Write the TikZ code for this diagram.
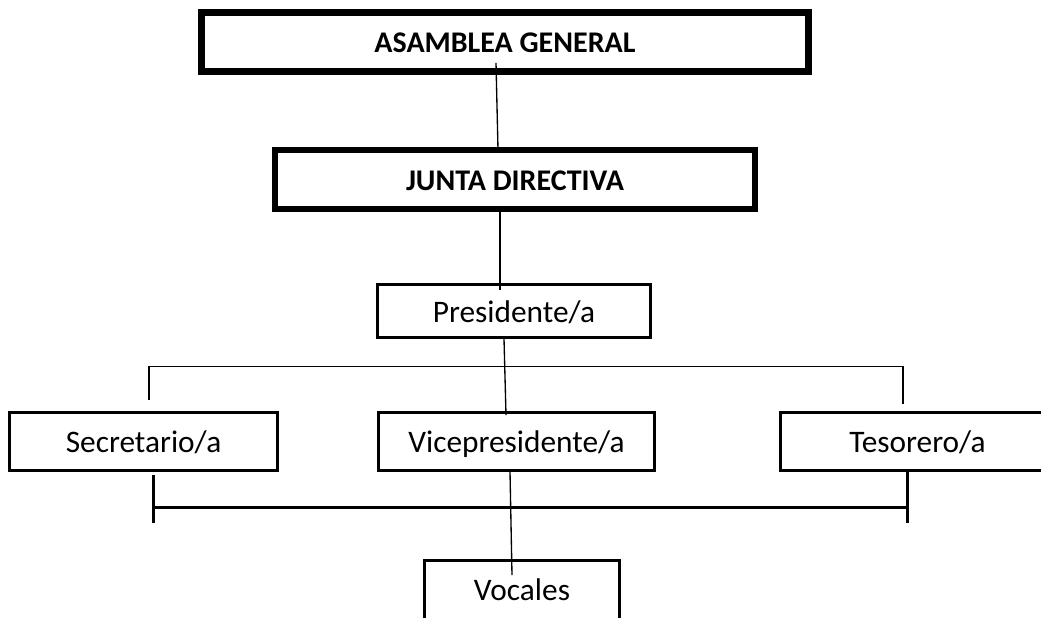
\documentclass[tikz,border=0pt]{standalone}
\usepackage{fontspec}
\setmainfont{Carlito}
\usetikzlibrary{calc}

\begin{document}
\begin{tikzpicture}[x=0.75pt, y=-0.75pt,
    box/.style = {draw, rectangle, inner sep=0pt, text height=16.5pt, text depth=0pt, font=\fontsize{23.5}{28}\selectfont},
    big/.style = {box, line width=5pt, minimum height=44.25pt, font=\fontsize{22.5}{27}\selectfont\bfseries},
    small/.style = {box, line width=2pt, minimum height=43.5pt},
    link/.style = {line width=1pt},
    bar/.style = {line width=2.25pt}]

    \useasboundingbox (0,0) rectangle (1041,617);
    \clip (0,0) rectangle (1041,617);

    \node[big, minimum width=455.25pt] (AG) at (505,42) {ASAMBLEA GENERAL};
    \node[big, minimum width=360pt] (JD) at (515,179.5) {JUNTA DIRECTIVA};
    \node[small, minimum width=204.75pt, minimum height=39.75pt] (Pr) at (514,311) {Presidente/a};
    \node[small, minimum width=201pt] (Se) at (143.5,441.5) {Secretario/a};
    \node[small, minimum width=207pt] (Vi) at (516.5,441.5) {Vicepresidente/a};
    \node[small, minimum width=205.5pt] (Te) at (917.5,441.5) {Tesorero/a};
    \node[small, minimum width=146.25pt, minimum height=60pt, text depth=16.5pt] (Vo) at (522,600.5) {Vocales};

    \draw[link] ($(AG.south)+(-9,-12)$) -- ($(JD.north)+(-17,3)$);
    \draw[link] ($(JD.south)+(-15,-3)$) -- ($(Pr.north)+(-14,7)$);
    \draw[link] ($(Pr.south)+(-10,0)$) -- ($(Vi.north)+(-10.5,4)$);
    \draw[link] ($(Vi.south)+(-6.5,0)$) -- ($(Vo.north)+(-10,16)$);
    \draw[link] ($(Se.north)+(5.5,-11)$) -- ++(0,-34) -| ($(Te.north)+(-14.5,-7)$);

    \draw[bar] ($(Se.south)+(9.5,3)$) -- ++(0,48);
    \draw[bar] ($(Te.south)+(-10.5,-3)$) -- ++(0,54);
    \draw[bar] ($(Se.south)+(9.5,36)$) -- ($(Te.south)+(-10.5,36)$);

\end{tikzpicture}
\end{document}
